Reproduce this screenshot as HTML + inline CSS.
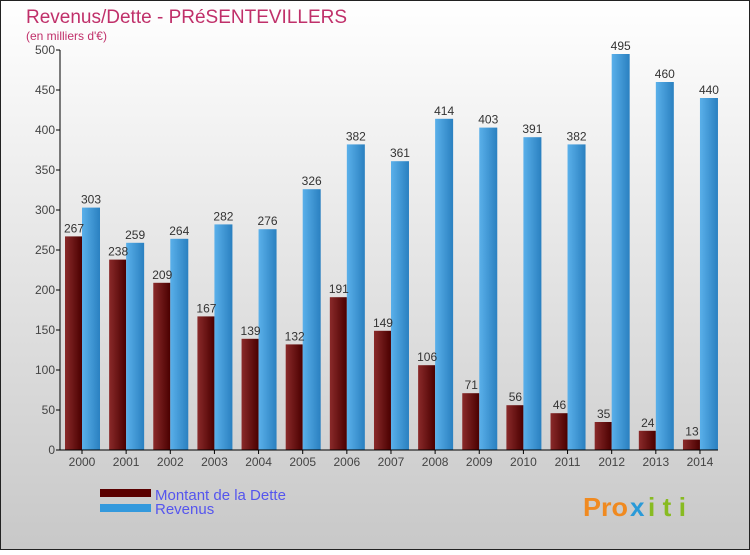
<!DOCTYPE html>
<html><head><meta charset="utf-8"><style>
html,body{margin:0;padding:0;}
body{width:750px;height:550px;overflow:hidden;font-family:"Liberation Sans",sans-serif;}
</style></head><body>
<svg id="chart" width="750" height="550" xmlns="http://www.w3.org/2000/svg">
<defs>
<linearGradient id="bg" x1="0" y1="0" x2="0" y2="1"><stop offset="0" stop-color="#ffffff"/><stop offset="1" stop-color="#c8c8c8"/></linearGradient>
<linearGradient id="gd" x1="0" y1="0" x2="1" y2="0"><stop offset="0" stop-color="#8a2a2a"/><stop offset="1" stop-color="#4a0000"/></linearGradient>
<linearGradient id="gr" x1="0" y1="0" x2="1" y2="0"><stop offset="0" stop-color="#5ab0ea"/><stop offset="1" stop-color="#2a80c0"/></linearGradient>
</defs>
<rect x="0.5" y="0.5" width="749" height="549" fill="url(#bg)" stroke="#222"/>
<text x="26" y="23" font-size="19" fill="#c0306a">Revenus/Dette - PRéSENTEVILLERS</text>
<text x="26" y="40" font-size="12" fill="#c0306a">(en milliers d'€)</text>
<g id="plot"></g>
<rect x="100" y="489" width="51" height="8" fill="#5a0000"/>
<rect x="100" y="504" width="51" height="8" fill="#3399dd"/>
<text x="155" y="500" font-size="15" fill="#5555ee">Montant de la Dette</text>
<text x="155" y="514" font-size="15" fill="#5555ee">Revenus</text>
<g font-size="26" font-weight="bold">
<text x="583" y="516" fill="#f08a20" textLength="45" lengthAdjust="spacingAndGlyphs">Pro</text><text x="630" y="516" fill="#2a9ad8">x</text><text x="648" y="516" fill="#88bb22" textLength="38" lengthAdjust="spacing">iti</text>
</g>
</svg>
<script>
const years=["2000","2001","2002","2003","2004","2005","2006","2007","2008","2009","2010","2011","2012","2013","2014"];
const dette=[267,238,209,167,139,132,191,149,106,71,56,46,35,24,13];
const revenus=[303,259,264,282,276,326,382,361,414,403,391,382,495,460,440];
const yTicks=[0,50,100,150,200,250,300,350,400,450,500];
const NS="http://www.w3.org/2000/svg";
const g=document.getElementById('plot');
const y=v=>450-v*0.8;
const x=i=>82+i*44.14;
function mk(t,a){const e=document.createElementNS(NS,t);for(const k in a)e.setAttribute(k,a[k]);g.appendChild(e);return e;}
yTicks.forEach(v=>{
  const l=mk('line',{x1:56,x2:60,y1:y(v),y2:y(v),stroke:'#000'});
  
  
  const t=mk('text',{x:55,y:y(v)+4,'font-size':12,fill:'#444','text-anchor':'end'});
  t.textContent=v;
  
  
});
years.forEach((yr,i)=>{
  const c=x(i);
  const b1=mk('rect',{x:c-17,y:y(dette[i]),width:17,height:dette[i]*0.8,fill:'url(#gd)'});
  
  
  const b2=mk('rect',{x:c,y:y(revenus[i]),width:18,height:revenus[i]*0.8,fill:'url(#gr)'});
  
  
  const t1=mk('text',{x:c-8,y:y(dette[i])-4,'font-size':12,fill:'#333','text-anchor':'middle'});
  t1.textContent=dette[i];
  
  
  const t2=mk('text',{x:c+9,y:y(revenus[i])-4,'font-size':12,fill:'#333','text-anchor':'middle'});
  t2.textContent=revenus[i];
  
  
  const tk=mk('line',{x1:c,x2:c,y1:450,y2:454,stroke:'#000'});
  
  
  const xl=mk('text',{x:c,y:466,'font-size':12,fill:'#444','text-anchor':'middle'});
  xl.textContent=yr;
  
  
});
const ya=mk('line',{x1:60,x2:60,y1:50,y2:450,stroke:'#000'});


const xa=mk('line',{x1:60,x2:718,y1:450,y2:450,stroke:'#000'});


</script>
</body></html>
